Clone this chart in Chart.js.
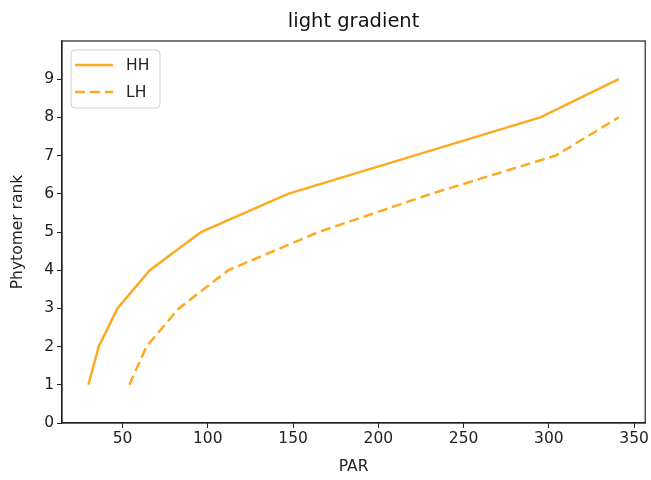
<!DOCTYPE html>
<html>
<head>
<meta charset="utf-8">
<script src="https://cdn.jsdelivr.net/npm/chart.js@4.4.0/dist/chart.umd.min.js"></script>
<style>
  html, body { margin: 0; padding: 0; background: #fff; }
  #wrap { width: 651px; height: 480px; }
</style>
</head>
<body>
<div id="wrap"><canvas id="myChart" width="651" height="480"></canvas></div>
<script>
// PAR values and phytomer ranks
const parHH = [30, 36, 47, 66, 96, 147, 221, 295, 341];
const rankHH = [1, 2, 3, 4, 5, 6, 7, 8, 9];
const parLH = [54, 64, 83, 112, 165, 231, 304, 341];
const rankLH = [1, 2, 3, 4, 5, 6, 7, 8];
const xTicks = [50, 100, 150, 200, 250, 300, 350];
const yTicks = [0, 1, 2, 3, 4, 5, 6, 7, 8, 9];
const chartTitle = 'light gradient';

const font = 'DejaVu Sans';
const orange = '#fdaa22';

// matplotlib style box, title centred on the axes, legend inside the plot
const framePlugin = {
    id: 'frame',
    afterDraw(chart) {
        const c = chart.ctx, a = chart.chartArea;
        c.save();
        c.strokeStyle = '#222';
        c.lineWidth = 1.2;
        c.strokeRect(a.left, a.top, a.right - a.left, a.bottom - a.top);

        // title
        c.fillStyle = '#111';
        c.font = '19.5px ' + font;
        c.textAlign = 'center';
        c.textBaseline = 'middle';
        c.fillText(chartTitle, (a.left + a.right) / 2, 22);

        // legend
        const x = a.left + 9, y = a.top + 9, w = 89, h = 58;
        c.fillStyle = 'rgba(255,255,255,0.8)';
        c.strokeStyle = '#d0d0d0';
        c.lineWidth = 1;
        c.beginPath();
        c.roundRect(x, y, w, h, 4);
        c.fill();
        c.stroke();
        c.font = '15.5px ' + font;
        c.textAlign = 'left';
        chart.data.datasets.forEach((ds, i) => {
            const ly = y + 15 + i * 27;
            c.strokeStyle = ds.borderColor;
            c.lineWidth = ds.borderWidth;
            c.setLineDash(ds.borderDash || []);
            c.beginPath();
            c.moveTo(x + 4, ly);
            c.lineTo(x + 42, ly);
            c.stroke();
            c.setLineDash([]);
            c.fillStyle = '#222';
            c.fillText(ds.label, x + 55, ly + 1);
        });
        c.restore();
    }
};

const ctx = document.getElementById('myChart');
new Chart(ctx, {
    type: 'line',
    data: {
        datasets: [{
            label: 'HH',
            data: parHH.map((p, i) => ({ x: p, y: rankHH[i] })),
            borderColor: orange,
            borderWidth: 2.5,
            pointRadius: 0,
            fill: false,
        }, {
            label: 'LH',
            data: parLH.map((p, i) => ({ x: p, y: rankLH[i] })),
            borderColor: orange,
            borderWidth: 2.5,
            borderDash: [10, 5],
            pointRadius: 0,
            fill: false,
        }]
    },
    options: {
        responsive: false,
        animation: false,
        layout: { padding: { left: 0, right: 5, top: 41, bottom: 0 } },
        plugins: {
            legend: { display: false },
            tooltip: { enabled: false },
            title: { display: false }
        },
        scales: {
            x: {
                type: 'linear',
                min: 14.5,
                max: 356.5,
                afterBuildTicks: (s) => { s.ticks = xTicks.map(v => ({ value: v })); },
                afterFit: (s) => { s.height = 57; },
                grid: { drawOnChartArea: false, tickLength: 5, color: '#222' },
                border: { color: '#222', width: 1.2 },
                ticks: { color: '#222', padding: 2, font: { family: font, size: 15.5 } },
                title: {
                    display: true,
                    text: 'PAR',
                    color: '#222',
                    font: { family: font, size: 15.5 },
                    padding: { top: 0 }
                }
            },
            y: {
                min: 0,
                max: 10,
                afterBuildTicks: (s) => { s.ticks = yTicks.map(v => ({ value: v })); },
                afterFit: (s) => { s.width = 62; },
                grid: { drawOnChartArea: false, tickLength: 5, color: '#222' },
                border: { color: '#222', width: 1.2 },
                ticks: { color: '#222', padding: 3, font: { family: font, size: 15.5 } },
                title: {
                    display: true,
                    text: 'Phytomer rank',
                    color: '#222',
                    font: { family: font, size: 15.5 },
                    padding: { top: 9, bottom: 0 }
                }
            }
        }
    },
    plugins: [framePlugin]
});
</script>
</body>
</html>
